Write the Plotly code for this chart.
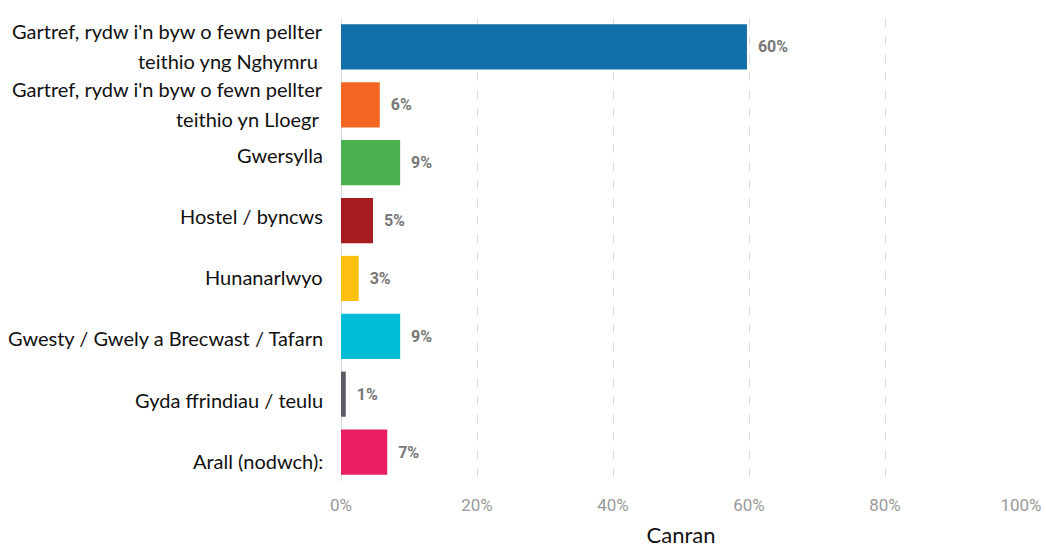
import plotly.graph_objects as go

categories = [
    ["Gartref, rydw i'n byw o fewn pellter", "teithio yng Nghymru "],
    ["Gartref, rydw i'n byw o fewn pellter", "teithio yn Lloegr "],
    ["Gwersylla"],
    ["Hostel / byncws"],
    ["Hunanarlwyo"],
    ["Gwesty / Gwely a Brecwast / Tafarn"],
    ["Gyda ffrindiau / teulu"],
    ["Arall (nodwch):"],
]
values = [59.7, 5.7, 8.7, 4.7, 2.6, 8.7, 0.7, 6.8]
value_labels = ["60%", "6%", "9%", "5%", "3%", "9%", "1%", "7%"]
colors = ["#136fa9", "#f26522", "#4caf50", "#a51c1e", "#fcc010", "#00bcd4", "#5c5a66", "#e91e63"]
x_ticks = [0, 20, 40, 60, 80, 100]
x_tick_labels = ["0%", "20%", "40%", "60%", "80%", "100%"]
x_title = "Canran"

ids = list(range(len(categories)))

fig = go.Figure()
fig.add_trace(go.Bar(
    x=values,
    y=ids,
    orientation="h",
    marker=dict(color=colors, line=dict(width=0)),
    text=value_labels,
    texttemplate="&nbsp;&nbsp;%{text}",
    textposition="outside",
    constraintext="none",
    textfont=dict(family="Roboto", size=16, color="#777777", weight="bold"),
    cliponaxis=False,
    hoverinfo="skip",
))

annotations = []
for i, lines in enumerate(categories):
    n = len(lines)
    if n == 1:
        offsets = [-3.4 * (i - 4.4)]
    else:
        offsets = [16, -14]
    for line, shift in zip(lines, offsets):
        annotations.append(dict(
            x=0, xref="paper", xanchor="right", xshift=-16,
            y=i, yref="y", yanchor="middle", yshift=shift,
            text=line.replace(" ", "&nbsp;") if line.endswith(" ") else line,
            showarrow=False,
            font=dict(family="Lato", size=20, color="#111111"),
        ))

fig.update_layout(
    width=1046, height=548,
    margin=dict(l=341, r=25, t=18, b=67, autoexpand=False),
    paper_bgcolor="white", plot_bgcolor="white",
    bargap=0.22,
    showlegend=False,
    annotations=annotations,
    font=dict(family="Lato"),
)
fig.update_xaxes(
    range=[0, 100],
    tickvals=x_ticks, ticktext=x_tick_labels,
    tickfont=dict(family="Roboto", size=17, color="#999999"),
    showgrid=True, gridcolor="#dddddd", griddash="dash", gridwidth=1,
    zeroline=True, zerolinecolor="#d8dde3", zerolinewidth=1,
    showline=False, ticks="", ticklabelstandoff=12,
    automargin=False,
    title=dict(text=x_title, font=dict(family="Lato", size=22, color="#111111"), standoff=18),
)
fig.update_yaxes(
    range=[len(categories) - 0.5, -0.5],
    showticklabels=False, showgrid=False, zeroline=False, showline=False, ticks="",
    automargin=False,
)

fig.write_html("out.html", config={"displayModeBar": False},
               post_script="document.body.style.margin='0';")
